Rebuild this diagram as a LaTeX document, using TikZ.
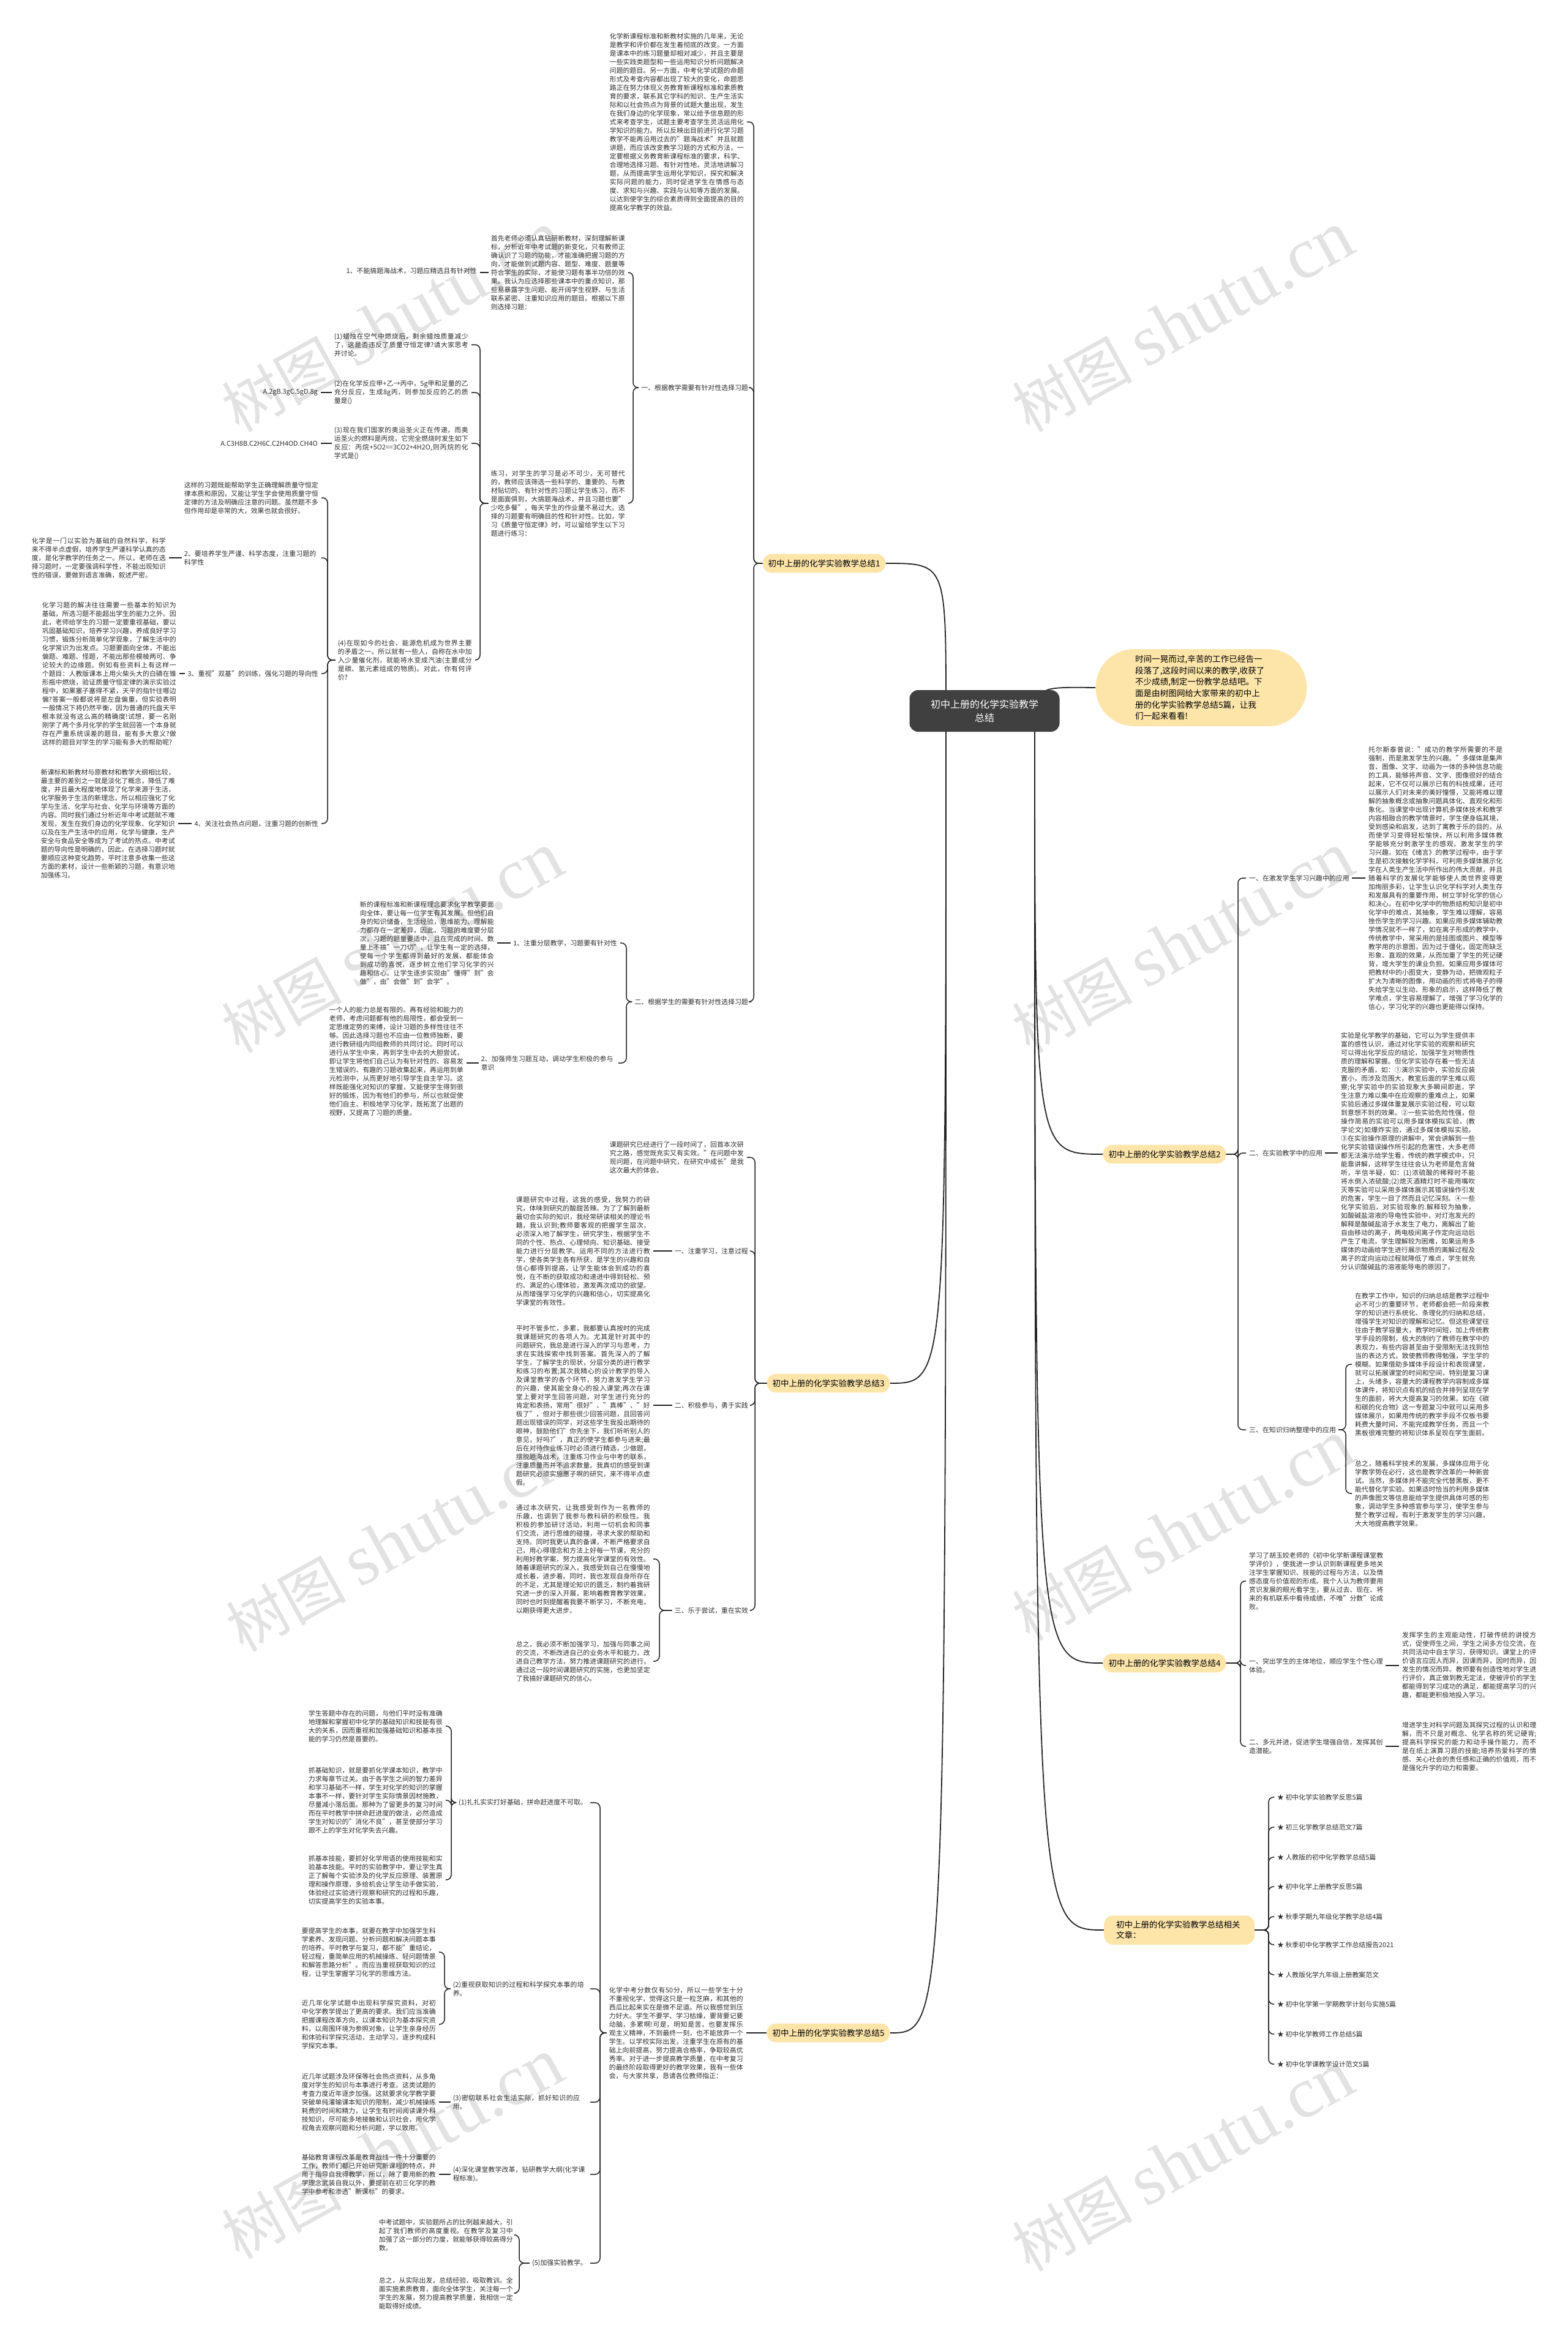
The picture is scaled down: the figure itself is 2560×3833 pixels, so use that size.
\documentclass[tikz,border=0pt]{standalone}
\usepackage{fontspec}
\setmainfont{Noto Sans CJK SC}
\newfontfamily\wmserif{Liberation Serif}
\usetikzlibrary{calc,backgrounds}
\XeTeXlinebreaklocale "zh"
\XeTeXlinebreakskip = 0pt plus 1pt
\definecolor{brY}{RGB}{253,229,170}
\definecolor{ctr}{RGB}{64,64,64}
\definecolor{ln}{RGB}{35,35,35}
\definecolor{tx}{RGB}{45,45,45}
\definecolor{wm}{RGB}{226,226,226}
\tikzset{
 para/.style={text width=219pt, align=justify, inner sep=0pt, font=\fontsize{10.9}{14}\selectfont, text=tx},
 lab/.style={inner sep=0pt, font=\fontsize{10.9}{14}\selectfont, text=tx},
 labtwo/.style={lab, text width=219pt, align=left},
 br/.style={fill=brY, rounded corners=15pt, inner xsep=9pt, inner ysep=9pt, font=\fontsize{13.5}{17}\selectfont, text=black},
 conn/.style={draw=ln, line width=1.5pt, rounded corners=8pt},
 trunk/.style={draw=ln, line width=1.8pt},
 wmk/.style={text=wm, rotate=29, inner sep=0pt}
}
\newcommand\lnkL[3]{\draw[conn] let \p1=(#1.west), \p2=(#2.east) in (\x1-4pt,\y1) -- (#3pt,\y1) |- (\x2+5pt,\y2);}
\newcommand\lnkLb[3]{\draw[conn] let \p1=(#1.west), \p2=(#2.east) in (\x1,\y1) -- (#3pt,\y1) |- (\x2+5pt,\y2);}
\newcommand\lnkLs[2]{\draw[conn] let \p1=(#1.west), \p2=(#2.east) in (\x1-4pt,\y1) -- (\x2+5pt,\y1);}
\newcommand\lnkLsb[2]{\draw[conn] let \p1=(#1.west), \p2=(#2.east) in (\x1,\y1) -- (\x2+5pt,\y1);}
\newcommand\lnkR[3]{\draw[conn] let \p1=(#1.east), \p2=(#2.west) in (\x1+4pt,\y1) -- (#3pt,\y1) |- (\x2-5pt,\y2);}
\newcommand\lnkRb[3]{\draw[conn] let \p1=(#1.east), \p2=(#2.west) in (\x1,\y1) -- (#3pt,\y1) |- (\x2-5pt,\y2);}
\newcommand\lnkRs[2]{\draw[conn] let \p1=(#1.east), \p2=(#2.west) in (\x1+4pt,\y1) -- (\x2-5pt,\y1);}
\newcommand\wmark[2]{\node[wmk, font=\fontsize{98}{98}\selectfont] at (#1,#2) {树图 {\wmserif\fontsize{118}{118}\selectfont shutu.cn}};}
\begin{document}
\begin{tikzpicture}[x=1pt,y=-1pt]
\useasboundingbox (0,0) rectangle (2560,3833);
% ---------- centre and branches
\node[fill=ctr, rounded corners=14pt, minimum width=245pt, minimum height=68pt, text=white, font=\fontsize{16}{22}\selectfont, align=center] (C) at (1608,1161) {初中上册的化学实验教学\\总结};
\node[br] (B1) at (1346,920) {初中上册的化学实验教学总结1};
\node[br] (B3) at (1353,2259) {初中上册的化学实验教学总结3};
\node[br] (B5) at (1353,3320) {初中上册的化学实验教学总结5};
\node[br] (B2) at (1902,1885) {初中上册的化学实验教学总结2};
\node[br] (B4) at (1902,2716) {初中上册的化学实验教学总结4};
\node[br, anchor=west, text width=206pt, align=left, inner xsep=20pt] (Rel) at (1803,3152) {初中上册的化学实验教学总结相关\\文章：};
\node[fill=brY, rounded corners=63pt, minimum width=345pt, minimum height=126pt, text width=216pt, align=left, font=\fontsize{13.6}{18.7}\selectfont] (intro) at (1962,1123) {时间一晃而过,辛苦的工作已经告一\\段落了,这段时间以来的教学,收获了\\不少成绩,制定一份教学总结吧。下\\面是由树图网给大家带来的初中上\\册的化学实验教学总结5篇，让我\\们一起来看看!};
% ---------- branch 1
\node[para, anchor=east] (p1top) at (1215,199) {化学新课程标准和新教材实施的几年来，无论是教学和评价都在发生着彻底的改变。一方面是课本中的练习题量却相对减少，并且主要是一些实践类题型和一些运用知识分析问题解决问题的题目。另一方面，中考化学试题的命题形式及考查内容都出现了较大的变化，命题思路正在努力体现义务教育新课程标准和素质教育的要求，联系其它学科的知识、生产生活实际和以社会热点为背景的试题大量出现，发生在我们身边的化学现象，常以给予信息题的形式来考查学生，试题主要考查学生灵活运用化学知识的能力。所以反映出目前进行化学习题教学不能再沿用过去的"题海战术"并且就题讲题，而应该改变教学习题的方式和方法，一定要根据义务教育新课程标准的要求，科学、合理地选择习题、有针对性地，灵活地讲解习题，从而提高学生运用化学知识，探究和解决实际问题的能力，同时促进学生在情感与态度、求知与兴趣、实践与认知等方面的发展。以达到使学生的综合素质得到全面提高的目的提高化学教学的效益。};
\node[lab, anchor=east] (L1) at (1222,633) {一、根据教学需要有针对性选择习题};
\node[lab, anchor=east] (L2) at (1222,1636) {二、根据学生的需要有针对性选择习题};
\node[para, anchor=east] (pA) at (1021,445) {首先老师必须认真钻研新教材，深刻理解新课标，分析近年中考试题的新变化，只有教师正确认识了习题的功能，才能准确把握习题的方向，才能做到试题内容、题型、难度、题量等符合学生的实际，才能使习题有事半功倍的效果。我认为应选择那些课本中的重点知识，那些易暴露学生问题、能开阔学生视野、与生活联系紧密、注重知识应用的题目。根据以下原则选择习题：};
\node[para, anchor=east] (pB) at (1021,822) {练习，对学生的学习是必不可少，无可替代的，教师应该筛选一些科学的、重要的、与教材贴切的、有针对性的习题让学生练习，而不是面面俱到，大搞题海战术，并且习题也要"少吃多餐"，每天学生的作业量不易过大。选择的习题要有明确目的性和针对性。比如，学习《质量守恒定律》时，可以留给学生以下习题进行练习：};
\node[lab, anchor=east] (pA1) at (779,442) {1、不能搞题海战术，习题应精选且有针对性};
\node[para, anchor=east] (q1) at (765,563) {(1)蜡烛在空气中燃烧后，剩余蜡烛质量减少了，这是否违反了质量守恒定律?请大家思考并讨论。};
\node[para, anchor=east] (q2) at (765,641) {(2)在化学反应甲+乙→丙中，5g甲和足量的乙充分反应，生成8g丙，则参加反应的乙的质量是()};
\node[para, anchor=east] (q3) at (765,724) {(3)现在我们国家的奥运圣火正在传递，而奥运圣火的燃料是丙烷，它完全燃烧时发生如下反应：丙烷+5O2==3CO2+4H2O,则丙烷的化学式是()};
\node[para, anchor=east] (q4) at (771,1078) {(4)在现如今的社会，能源危机成为世界主要的矛盾之一。所以就有一些人，自称在水中加入少量催化剂，就能将水变成汽油(主要成分是碳、氢元素组成的物质)。对此，你有何评价?};
\node[lab, anchor=east] (q2a) at (519,641) {A.2gB.3gC.5gD.8g};
\node[lab, anchor=east] (q3a) at (519,724) {A.C3H8B.C2H6C.C2H4OD.CH4O};
\node[para, anchor=east] (r1) at (520,813) {这样的习题既能帮助学生正确理解质量守恒定律本质和原因，又能让学生学会使用质量守恒定律的方法及明确应注意的问题。虽然题不多但作用却是非常的大，效果也就会很好。};
\node[labtwo, anchor=east] (r2) at (520,911) {2、要培养学生严谨、科学态度，注重习题的科学性};
\node[lab, anchor=east] (r3) at (520,1100) {3、重视"双基"的训练，强化习题的导向性};
\node[lab, anchor=east] (r4) at (520,1345) {4、关注社会热点问题，注重习题的创新性};
\node[para, anchor=east] (r2c) at (271,911) {化学是一门以实验为基础的自然科学，科学来不得半点虚假，培养学生严谨科学认真的态度，是化学教学的任务之一。所以，老师在选择习题时，一定要强调科学性，不能出现知识性的错误，要做到语言准确，叙述严密。};
\node[para, anchor=east] (r3c) at (288,1100) {化学习题的解决往往需要一些基本的知识为基础，所选习题不能超出学生的能力之外。因此，老师给学生的习题一定要重视基础，要以巩固基础知识，培养学习兴趣，养成良好学习习惯，锻炼分析简单化学现象，了解生活中的化学常识为出发点。习题要面向全体，不能出偏题、难题、怪题，不能出那些模棱两可、争论较大的边缘题。例如有些资料上有这样一个题目：人教版课本上用火柴头大的白磷在锥形瓶中燃烧，验证质量守恒定律的演示实验过程中，如果塞子塞得不紧，天平的指针往哪边偏?答案一般都说将是左盘偏重，但实验表明一般情况下将仍然平衡，因为普通的托盘天平根本就没有这么高的精确度!试想，要一名刚刚学了两个多月化学的学生就回答一个本身就存在严重系统误差的题目，能有多大意义?做这样的题目对学生的学习能有多大的帮助呢?};
\node[para, anchor=east] (r4c) at (286,1345) {新课标和新教材与原教材和教学大纲相比较，最主要的差别之一就是淡化了概念，降低了难度，并且最大程度地体现了化学来源于生活，化学服务于生活的新理念，所以相应强化了化学与生活、化学与社会、化学与环境等方面的内容。同时我们通过分析近年中考试题就不难发现，发生在我们身边的化学现象、化学知识以及在生产生活中的应用，化学与健康，生产安全与食品安全等成为了考试的热点。中考试题的导向性是明确的，因此，在选择习题时就要顺应这种变化趋势，平时注意多收集一些这方面的素材，设计一些新颖的习题，有意识地加强练习。};
\node[lab, anchor=east] (s1) at (1008,1540) {1、注重分层教学，习题要有针对性};
\node[labtwo, anchor=east] (s2) at (1005,1736) {2、加强师生习题互动，调动学生积极的参与意识};
\node[para, anchor=east] (s1c) at (807,1540) {新的课程标准和新课程理念要求化学教学要面向全体，要让每一位学生有其发展。但他们自身的知识储备，生活经验，思维能力、理解能力都存在一定差异，因此，习题的难度要分层次，习题的题量要适中，且在完成的时间、数量上不搞"一刀切"，让学生有一定的选择，使每一个学生都得到最好的发展，都能体会到成功的喜悦，逐步树立他们学习化学的兴趣和信心。让学生逐步实现由"懂得"到"会做"，由"会做"到"会学"。};
\node[para, anchor=east] (s2c) at (757,1733) {一个人的能力总是有限的。再有经验和能力的老师，考虑问题都有他的局限性，都会受到一定思维定势的束缚，设计习题的多样性往往不够。因此选择习题也不应由一位教师独断，要进行教研组内同组教师的共同讨论。同时可以进行从学生中来，再到学生中去的大胆尝试，即让学生将他们自己认为有针对性的、容易发生错误的、有趣的习题收集起来，再运用到单元检测中，从而更好地引导学生自主学习。这样既能强化对知识的掌握，又能使学生得到很好的锻炼，因为有他们的参与，所以也就促使他们自主、积极地学习化学，既拓宽了出题的视野，又提高了习题的质量。};
% ---------- branch 3
\node[para, anchor=east] (t0) at (1215,1890) {课题研究已经进行了一段时间了，回首本次研究之路，感觉既充实又有实效。"在问题中发现问题，在问题中研究，在研究中成长"是我这次最大的体会。};
\node[lab, anchor=east] (T1) at (1222,2043) {一、注重学习，注意过程};
\node[lab, anchor=east] (T2) at (1222,2295) {二、积极参与，勇于实践};
\node[lab, anchor=east] (T3) at (1222,2630) {三、乐于尝试，重在实效};
\node[para, anchor=east] (T1c) at (1062,2043) {课题研究中过程，这我的感受，我努力的研究，体味到研究的酸甜苦辣。为了了解到最新最切合实际的知识，我经常研读相关的理论书籍，我认识到;教师要客观的把握学生层次，必须深入地了解学生，研究学生，根据学生不同的个性、热点、心理倾向、知识基础、接受能力进行分层教学。运用不同的方法进行教学，使各类学生各有所获，是学生的兴趣和自信心都得到提高，让学生能体会到成功的喜悦，在不断的获取成功和递进中得到轻松、预约、满足的心理体验，激发再次成功的欲望。从而增强学习化学的兴趣和信心，切实提高化学课堂的有效性。};
\node[para, anchor=east] (T2c) at (1062,2295) {平时不管多忙，多累，我都要认真按时的完成我课题研究的各项人为。尤其是针对其中的问题研究，我总是进行深入的学习与思考，力求在实践探索中找到答案。首先深入的了解学生，了解学生的现状，分层分类的进行教学和练习的布置;其次我精心的设计教学的导入及课堂教学的各个环节，努力激发学生学习的兴趣，使其能全身心的投入课堂;再次在课堂上要对学生回答问题，对学生进行充分的肯定和表扬，常用"很好"、"真棒"、"好极了"，但对于那些很少回答问题，且回答问题出现错误的同学，对这些学生我投出期待的眼神，鼓励他们"你先坐下，我们听听别人的意见，好吗?"，真正的使学生都参与进来;最后在对待作业练习时必须进行精选，少做题，摆脱题海战术，注重练习作业与中考的联系，注重质量而并不追求数量。我真切的感受到课题研究必须实施惠子啊的研究，来不得半点虚假。};
\node[para, anchor=east] (u1) at (1062,2546) {通过本次研究，让我感受到作为一名教师的乐趣，也调到了我参与教科研的积极性。我积极的参加研讨活动，利用一切机会和同事们交流，进行思维的碰撞，寻求大家的帮助和支持。同时我更认真的备课，不断严格要求自己，用心得理念和方法上好每一节课，充分的利用好教学案，努力提高化学课堂的有效性。随着课题研究的深入，我感受到自己在慢慢地成长着，进步着。同时，我也发现自身所存在的不足，尤其是理论知识的匮乏，制约着我研究进一步的深入开展，影响着教育教学效果，同时也时刻提醒着我要不断学习，不断充电，以期获得更大进步。};
\node[para, anchor=east] (u2) at (1062,2713) {总之，我必须不断加强学习，加强与同事之间的交流，不断改进自己的业务水平和能力，改进自己教学方法，努力推进课题研究的进行，通过这一段时间课题研究的实施，也更加坚定了我搞好课题研究的信心。};
% ---------- branch 5
\node[para, anchor=east] (v0) at (1214,3320) {化学中考分数仅有50分，所以一些学生十分不重视化学，觉得这只是一粒芝麻，和其他的西瓜比起来实在是微不足道。所以我感觉到压力好大。学生不要学、学习枯燥，要背要记要动脑，多累啊!可是，明知是苦，也要发挥乐观主义精神，不到最终一刻，也不能放弃一个学生。以学校实际出发，注重学生在原有的基础上向前提高，努力提高合格率，争取较高优秀率。对于进一步提高教学质量，在中考复习的最终阶段取得更好的教学效果，我有一些体会，与大家共享，恳请各位教师指正：};
\node[lab, anchor=east] (w1) at (959,2944) {(1)扎扎实实打好基础，拼命赶进度不可取。};
\node[labtwo, anchor=east] (w2) at (959,3248) {(2)重视获取知识的过程和科学探究本事的培养。};
\node[labtwo, anchor=east] (w3) at (959,3433) {(3)密切联系社会生活实际，抓好知识的应用。};
\node[labtwo, anchor=east] (w4) at (959,3551) {(4)深化课堂教学改革，钻研教学大纲(化学课程标准)。};
\node[lab, anchor=east] (w5) at (959,3696) {(5)加强实验教学。};
\node[para, anchor=east] (x1) at (723,2819) {学生答题中存在的问题，与他们平时没有准确地理解和掌握初中化学的基础知识和技能有很大的关系，因而重视和加强基础知识和基本技能的学习仍然是首要的。};
\node[para, anchor=east] (x2) at (723,2940) {抓基础知识，就是要抓化学课本知识，教学中力求每章节过关。由于各学生之间的智力差异和学习基础不一样，学生对化学的知识的掌握本事不一样，要针对学生实际情景因材施教，尽量减小落后面。那种为了留更多的复习时间而在平时教学中拼命赶进度的做法，必然造成学生对知识的"消化不良"，甚至使部分学习跟不上的学生对化学失去兴趣。};
\node[para, anchor=east] (x3) at (723,3070) {抓基本技能，要抓好化学用语的使用技能和实验基本技能。平时的实验教学中，要让学生真正了解每个实验涉及的化学反应原理、装置原理和操作原理，多给机会让学生动手做实验，体验经过实验进行观察和研究的过程和乐趣，切实提高学生的实验本事。};
\node[para, anchor=east] (y1) at (712,3188) {要提高学生的本事，就要在教学中加强学生科学素养、发现问题、分析问题和解决问题本事的培养。平时教学与复习，都不能"重结论，轻过程，重简单应用的机械操练、轻问题情景和解答思路分析"。而应当重视获取知识的过程，让学生掌握学习化学的思维方法。};
\node[para, anchor=east] (y2) at (712,3306) {近几年化学试题中出现科学探究资料，对初中化学教学提出了更高的要求。我们应当准确把握课程改革方向，以课本知识为基本探究资料，以周围环境为参照对象，让学生亲身经历和体验科学探究活动，主动学习，逐步构成科学探究本事。};
\node[para, anchor=east] (w3c) at (712,3433) {近几年试题涉及环保等社会热点资料，从多角度对学生的知识与本事进行考查。这类试题的考查力度近年逐步加强。这就要求化学教学要突破单纯灌输课本知识的限制，减少机械操练耗费的时间和精力，让学生有时间阅读课外科技知识，尽可能多地接触和认识社会，用化学视角去观察问题和分析问题，学以致用。};
\node[para, anchor=east] (w4c) at (712,3551) {基础教育课程改革是教育战线一件十分重要的工作，教师们都已开始研究新课程的特点，并用于指导自我得教学，所以，除了要用新的教学理念武装自我以外，要提前在初三化学的教学中参考和渗透"新课标"的要求。};
\node[para, anchor=east] (z1) at (838,3650) {中考试题中，实验题所占的比例越来越大，引起了我们教师的高度重视。在教学及复习中加强了这一部分的力度，就能够获得较高得分数。};
\node[para, anchor=east] (z2) at (838,3745) {总之，从实际出发，总结经验，吸取教训。全面实施素质教育，面向全体学生，关注每一个学生的发展，努力提高教学质量，我相信一定能取得好成绩。};
% ---------- branch 2
\node[lab, anchor=west] (M1) at (2040,1434) {一、在激发学生学习兴趣中的应用};
\node[lab, anchor=west] (M2) at (2040,1883) {二、在实验教学中的应用};
\node[lab, anchor=west] (M3) at (2040,2335) {三、在知识归纳整理中的应用};
\node[para, anchor=west] (m1p) at (2235,1434) {托尔斯泰曾说："成功的教学所需要的不是强制，而是激发学生的兴趣。"多媒体是集声音、图像、文字、动画为一体的多种信息功能的工具，能够将声音、文字、图像很好的结合起来，它不仅可以展示已有的科技成果，还可以展示人们对未来的美好憧憬，又能将难以理解的抽象概念或抽象问题具体化、直观化和形象化。当课堂中出现计算机多媒体技术和教学内容相融合的教学情景时，学生便身临其境，受到感染和启发，达到了寓教于乐的目的，从而使学习变得轻松愉快，所以利用多媒体教学能够充分刺激学生的感观，激发学生的学习兴趣。如在《绪言》的教学过程中，由于学生是初次接触化学学科，可利用多媒体展示化学在人类生产生活中所作出的伟大贡献，并且随着科学的发展化学能够使人类世界变得更加绚丽多彩，让学生认识化学科学对人类生存和发展具有的重要作用，树立学好化学的信心和决心。在初中化学中的物质结构知识是初中化学中的难点，其抽象，学生难以理解，容易挫伤学生的学习兴趣。如果应用多媒体辅助教学情况就不一样了，如在离子形成的教学中，传统教学中，常采用的是挂图或图片、模型等教学用的示意图，因为过于僵化，固定而缺乏形象、直观的效果，从而加重了学生的死记硬背，增大学生的课业负担。如果应用多媒体可把教材中的小图变大，变静为动，把微观粒子扩大为清晰的图像，用动画的形式将电子的得失给学生以生动、形象的启示，这样降低了教学难点，学生容易理解了，增强了学习化学的信心，学习化学的兴趣也更能得以保持。};
\node[para, anchor=west] (m2p) at (2190,1880) {实验是化学教学的基础，它可以为学生提供丰富的感性认识，通过对化学实验的观察和研究可以得出化学反应的结论，加强学生对物质性质的理解和掌握。但化学实验存在着一些无法克服的矛盾，如：①演示实验中，实验反应装置小，而涉及范围大，教室后面的学生难以观察;化学实验中的实验现象大多瞬间即逝，学生注意力难以集中在应观察的重难点上，如果实验后通过多媒体重复展示实验过程，可以取到意想不到的效果。②一些实验危险性强，但操作简易的实验可以用多媒体模拟实验，(教学论文)如爆炸实验，通过多媒体模拟实验。③在实验操作原理的讲解中，常会讲解到一些化学实验错误操作所引起的危害性，大多老师都无法演示给学生看，传统的教学模式中，只能靠讲解，这样学生往往会认为老师是危言耸听，半信半疑，如：(1)浓硫酸的稀释时不能将水倒入浓硫酸;(2)熄灭酒精灯时不能用嘴吹灭等实验可以采用多媒体展示其错误操作引发的危害，学生一目了然而且记忆深刻。④一些化学实验后，对实验现象的.解释较为抽象，如酸碱盐溶液的导电性实验中，对灯泡发光的解释是酸碱盐溶于水发生了电力，离解出了能自由移动的离子，两电极间离子作定向运动后产生了电流，学生理解较为困难，如果运用多媒体的动画给学生进行展示物质的离解过程及离子的定向运动过程就降低了难点，学生就充分认识酸碱盐的溶液能导电的原因了。};
\node[para, anchor=west] (m3a) at (2213,2228) {在教学工作中，知识的归纳总结是教学过程中必不可少的重要环节，老师都会把一阶段来教学的知识进行系统化、条理化的归纳和总结，增强学生对知识的理解和记忆。但这些课堂往往由于教学容量大，教学时间短，加上传统教学手段的限制，极大的制约了教师在教学中的表现力，有些内容甚至由于受限制无法找到恰当的表达方式，致使教师教得勉强，学生学的模糊。如果借助多媒体手段设计和表现课堂，就可以拓展课堂的时间和空间，特别是复习课上，头绪多，容量大的课程教学内容制成多媒体课件，将知识点有机的结合并排列呈现在学生的面前，将大大提高复习的效果。如在《碳和碳的化合物》这一专题复习中就可以采用多媒体展示，如果用传统的教学手段不仅板书要耗费大量时间，不能完成教学任务，而且一个黑板很难完整的将知识体系呈现在学生面前。};
\node[para, anchor=west] (m3b) at (2213,2439) {总之，随着科学技术的发展，多媒体应用于化学教学势在必行，这也是教学改革的一种新尝试。当然，多媒体并不能完全代替黑板，更不能代替化学实验。如果适时恰当的利用多媒体的声像图文等信息能给学生提供具体可感的形象，调动学生多种感官参与学习，使学生参与整个教学过程，有利于激发学生的学习兴趣，大大地提高教学效果。};
% ---------- branch 4
\node[para, anchor=west] (n0) at (2040,2582) {学习了胡玉姣老师的《初中化学新课程课堂教学评价》，使我进一步认识到新课程更多地关注学生掌握知识、技能的过程与方法，以及情感态度与价值观的形成。我个人认为教师要用赏识发展的眼光看学生，要从过去、现在、将来的有机联系中看待成绩，不唯"分数"论成败。};
\node[labtwo, anchor=west] (N1) at (2040,2720) {一、突出学生的主体地位，顺应学生个性心理体验。};
\node[labtwo, anchor=west] (N2) at (2040,2852) {二、多元并进，促进学生增强自信，发挥其创造潜能。};
\node[para, anchor=west] (N1c) at (2290,2719) {发挥学生的主观能动性，打破传统的讲授方式，促使师生之间，学生之间多方位交流，在共同活动中自主学习，获得知识。课堂上的评价语言应因人而异，因课而异，因时而异，因发生的情况而异。教师要有创造性地对学生进行评价，真正做到教无定法，使被评价的学生都能得到学习成功的满足，都能提高学习的兴趣，都能更积极地投入学习。};
\node[para, anchor=west] (N2c) at (2290,2852) {增进学生对科学问题及其探究过程的认识和理解，而不只是对概念、化学名称的死记硬背;提高科学探究的能力和动手操作能力，而不是在纸上演算习题的技能;培养热爱科学的情感、关心社会的责任感和正确的价值观，而不是强化升学的动力和需要。};
% ---------- related
\node[lab, anchor=west] (R1) at (2086,2935) {★ 初中化学实验教学反思5篇};
\node[lab, anchor=west] (R2) at (2086,2984) {★ 初三化学教学总结范文7篇};
\node[lab, anchor=west] (R3) at (2086,3033) {★ 人教版的初中化学教学总结5篇};
\node[lab, anchor=west] (R4) at (2086,3081) {★ 初中化学上册教学反思5篇};
\node[lab, anchor=west] (R5) at (2086,3130) {★ 秋季学期九年级化学教学总结4篇};
\node[lab, anchor=west] (R6) at (2086,3176) {★ 秋季初中化学教学工作总结报告2021};
\node[lab, anchor=west] (R7) at (2086,3225) {★ 人教版化学九年级上册教案范文};
\node[lab, anchor=west] (R8) at (2086,3273) {★ 初中化学第一学期教学计划与实施5篇};
\node[lab, anchor=west] (R9) at (2086,3322) {★ 初中化学教师工作总结5篇};
\node[lab, anchor=west] (R10) at (2086,3371) {★ 初中化学课教学设计范文5篇};
% ---------- background: watermarks and trunk curves
\begin{pgfonlayer}{background}
\fill[white] (0,0) rectangle (2560,3833);
\wmark{641}{526}\wmark{1932}{526}
\wmark{641}{1540}\wmark{1932}{1540}
\wmark{648}{2518}\wmark{1932}{2500}
\wmark{641}{3510}\wmark{1932}{3530}
\draw[trunk] (1545,1161) .. controls (1545,920) .. (B1.east);
\draw[trunk] (1545,1161) .. controls (1545,2259) .. (B3.east);
\draw[trunk] (1545,1161) .. controls (1545,3320) .. (B5.east);
\draw[trunk] (1690,1161) .. controls (1700,1122) .. (intro.west);
\draw[trunk] (1690,1161) .. controls (1690,1885) .. (B2.west);
\draw[trunk] (1690,1161) .. controls (1690,2716) .. (B4.west);
\draw[trunk] (1690,1161) .. controls (1690,3152) .. (Rel.west);
\end{pgfonlayer}
% ---------- connectors
\lnkLb{B1}{p1top}{1231}\lnkLb{B1}{L1}{1231}\lnkLb{B1}{L2}{1231}
\lnkL{L1}{pA}{1034}\lnkL{L1}{pB}{1034}
\lnkLs{pA}{pA1}
\lnkL{pB}{q1}{784}\lnkL{pB}{q2}{784}\lnkL{pB}{q3}{784}\lnkL{pB}{q4}{784}
\lnkLs{q2}{q2a}\lnkLs{q3}{q3a}
\lnkL{q4}{r1}{535}\lnkL{q4}{r2}{535}\lnkL{q4}{r3}{535}\lnkL{q4}{r4}{535}
\lnkLs{r2}{r2c}\lnkLs{r3}{r3c}\lnkLs{r4}{r4c}
\lnkL{L2}{s1}{1023}\lnkL{L2}{s2}{1023}
\lnkLs{s1}{s1c}\lnkLs{s2}{s2c}
\lnkLb{B3}{t0}{1233}\lnkLb{B3}{T1}{1233}\lnkLb{B3}{T2}{1233}\lnkLb{B3}{T3}{1233}
\lnkLs{T1}{T1c}\lnkLs{T2}{T2c}
\lnkL{T3}{u1}{1077}\lnkL{T3}{u2}{1077}
\lnkLsb{B5}{v0}
\lnkL{v0}{w1}{980}\lnkL{v0}{w2}{980}\lnkL{v0}{w3}{980}\lnkL{v0}{w4}{980}\lnkL{v0}{w5}{980}
\lnkL{w1}{x1}{737}\lnkL{w1}{x2}{737}\lnkL{w1}{x3}{737}
\lnkL{w2}{y1}{726}\lnkL{w2}{y2}{726}
\lnkLs{w3}{w3c}\lnkLs{w4}{w4c}
\lnkL{w5}{z1}{848}\lnkL{w5}{z2}{848}
\lnkRb{B2}{M1}{2022}\lnkRb{B2}{M2}{2022}\lnkRb{B2}{M3}{2022}
\lnkRs{M1}{m1p}\lnkRs{M2}{m2p}
\lnkR{M3}{m3a}{2198}\lnkR{M3}{m3b}{2198}
\lnkRb{B4}{n0}{2026}\lnkRb{B4}{N1}{2026}\lnkRb{B4}{N2}{2026}
\lnkRs{N1}{N1c}\lnkRs{N2}{N2c}
\lnkRb{Rel}{R1}{2072}\lnkRb{Rel}{R2}{2072}\lnkRb{Rel}{R3}{2072}\lnkRb{Rel}{R4}{2072}\lnkRb{Rel}{R5}{2072}
\lnkRb{Rel}{R6}{2072}\lnkRb{Rel}{R7}{2072}\lnkRb{Rel}{R8}{2072}\lnkRb{Rel}{R9}{2072}\lnkRb{Rel}{R10}{2072}
\end{tikzpicture}
\end{document}
